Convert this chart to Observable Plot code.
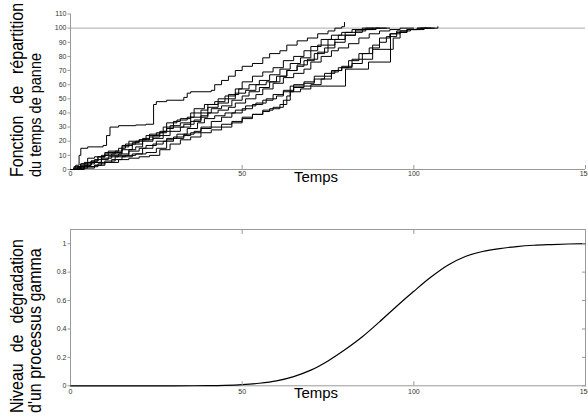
<!DOCTYPE html>
<html><head><meta charset="utf-8">
<script src="https://cdn.jsdelivr.net/npm/d3@7"></script>
<script src="https://cdn.jsdelivr.net/npm/@observablehq/plot@0.6"></script>
<style>
body{margin:0;background:#fff;}
#wrap{position:relative;width:588px;height:417px;overflow:hidden;font-family:"Liberation Sans",Arial,sans-serif;}
#wrap svg{position:absolute;left:0;}
</style></head><body><div id="wrap"></div>
<script>
// ---- data ----
const xTicks = [0, 50, 100, 150];
const yTicksTop = [0, 10, 20, 30, 40, 50, 60, 70, 80, 90, 100, 110];
const yTicksBottom = [0, 0.2, 0.4, 0.6, 0.8, 1];
const xLabel = "Temps";
const yLabelTop = ["Fonction de répartition", "du temps de panne"];
const yLabelBottom = ["Niveau de dégradation", "d'un processus gamma"];
const seuil = 100;

const runA = [[0,0],[1.5,3],[2.5,10],[3,15],[5,16],[9.5,17],[10.5,24],[11.5,30],[14,31],[19,31.5],[22,32],[24.2,46],[25,48],[28,49],[33,51],[34,54],[35,55],[41,56],[42,60],[44,63],[46,66],[48,70],[50,73],[53,75],[56,79],[58,82],[61,84],[63,88],[66,91],[69,93],[72,96],[75,98],[77,100],[79,101],[79.8,104]];
const runB = [[0,0],[2,1],[4,3],[6,6],[8,9],[10,12],[13,13],[15,17],[18,18],[21,22],[23,25],[26,27],[28,33],[31,35],[34,37],[36,43],[39,46],[42,48],[45,52],[48,57],[50,62],[53,66],[56,69],[59,72],[62,77],[65,80],[68,84],[70,87],[73,92],[76,95],[79,97],[82,99],[85,100],[88,100]];
const runC = [[0,0],[3,2],[5,4],[7,5],[9,8],[12,10],[14,11],[17,14],[19,16],[21,20],[24,22],[27,24],[29,27],[32,30],[35,34],[38,38],[40,44],[43,47],[46,50],[48,54],[51,56],[54,60],[57,62],[60,66],[63,70],[66,73],[68,77],[71,82],[74,86],[77,90],[80,95],[83,98],[86,99],[89,100],[92,100]];
const runD = [[0,0],[2,1],[5,2],[8,4],[10,6],[13,9],[16,10],[19,11],[22,12],[25,15],[28,21],[30,23],[33,25],[36,27],[38,29],[41,30],[44,32],[47,34],[50,36],[53,39],[56,42],[59,44],[62,49],[64,55],[67,57],[70,60],[73,64],[76,70],[79,73],[82,78],[85,82],[88,88],[90,93],[93,96],[96,98],[99,99],[102,100],[104,100]];
const runE = [[0,0],[4,1],[7,3],[10,5],[14,7],[17,8],[20,9],[23,10],[26,14],[29,18],[32,21],[35,23],[38,26],[41,28],[44,30],[47,33],[50,37],[53,39],[56,41],[58,43],[61,46],[63,52],[64,59],[80.1,71],[86.8,76],[93.2,96],[95,98],[98,99],[101,100],[106,100]];
const runF = [[0,0],[1,1],[3,3],[6,5],[9,7],[11,9],[14,10],[17,13],[20,15],[22,17],[25,20],[28,22],[31,25],[34,29],[37,33],[39,36],[42,38],[45,40],[48,42],[51,45],[54,47],[57,50],[60,52],[62,55],[65,60],[68,62],[71,66],[74,68],[77,70],[79,72],[82,75],[85,78],[88,85],[93.7,85],[94,93],[96,97],[98,99],[103,100],[107,101]];
const runG = [[0,0],[2,2],[4,5],[6,6],[8,9],[10,10],[12,11],[15,14],[18,19],[20,21],[23,23],[26,26],[28,29],[30,30],[33,32],[36,35],[38,37],[40,40],[43,42],[46,44],[48,47],[51,50],[54,53],[56,57],[59,61],[62,65],[65,68],[68,71],[70,76],[73,80],[76,84],[78,86],[81,89],[84,93],[87,96],[90,98],[93,99],[96,100],[100,100]];
const runH = [[0,0],[1,2],[3,4],[5,8],[7,9],[10,11],[13,12],[15,16],[17,20],[20,21],[22,24],[25,26],[27,30],[30,34],[32,36],[35,40],[38,42],[40,46],[43,50],[46,53],[49,57],[52,60],[55,63],[58,67],[61,71],[64,75],[67,79],[70,84],[72,88],[75,92],[78,95],[80,97],[83,99],[86,100],[90,100]];
const runI = [[0,0],[2,1],[4,2],[7,3],[9,5],[12,7],[15,9],[18,11],[21,15],[24,18],[27,20],[30,22],[33,24],[35,26],[38,30],[41,34],[44,37],[47,40],[50,43],[53,46],[56,49],[59,53],[62,56],[65,58],[68,61],[71,64],[74,66],[76,69],[78,72],[81,77],[84,82],[87,86],[90,90],[92,94],[95,97],[98,99],[101,100],[105,100]];
const runJ = [[0,0],[1,1],[3,4],[5,5],[7,7],[9,10],[11,13],[14,15],[16,18],[19,20],[21,21],[24,24],[27,27],[29,31],[32,33],[35,37],[38,40],[41,43],[44,45],[47,49],[50,52],[52,55],[55,58],[58,62],[61,66],[63,70],[66,74],[69,78],[72,83],[75,88],[77,92],[80,95],[83,97],[85,99],[88,100],[93,100]];

const gammaT = [0,10,20,30,40,45,50,55,60,65,70,75,80,85,90,95,100,105,110,115,120,125,130,135,140,145,150];
const gammaV = [0,0,0,0,0.001,0.003,0.008,0.018,0.035,0.065,0.11,0.175,0.255,0.345,0.45,0.56,0.665,0.765,0.85,0.91,0.945,0.966,0.98,0.989,0.994,0.998,1.0];

// ---- tables ----
const runs = {A: runA, B: runB, C: runC, D: runD, E: runE, F: runF, G: runG, H: runH, I: runI, J: runJ};
const runRows = Object.entries(runs).flatMap(([k, pts]) => pts.map(([t, v]) => ({run: k, t, v})));
const gammaRows = gammaT.map((t, i) => ({t, v: gammaV[i]}));

const FONT = "Liberation Sans, Arial, sans-serif";
const AX = "#999";
const TXT = "#333";

const topChart = Plot.plot({
  width: 588, height: 200,
  marginLeft: 70, marginRight: 3, marginTop: 13.5, marginBottom: 31,
  style: {fontFamily: FONT, background: "transparent", overflow: "visible"},
  x: {domain: [0, 150]},
  y: {domain: [0, 110]},
  marks: [
    Plot.ruleY([seuil], {stroke: "#aaa", strokeWidth: 1}),
    Plot.ruleY([0], {stroke: AX}),
    Plot.ruleX([0], {stroke: AX}),
    Plot.line(runRows, {x: "t", y: "v", z: "run", curve: "step-after", stroke: "#000", strokeWidth: 1}),
    Plot.axisY({ticks: yTicksTop, tickSize: 2.5, tickPadding: 1.5, fontSize: 7, fill: TXT, stroke: AX, label: null}),
    Plot.axisX({ticks: xTicks, tickSize: -4, tickPadding: 6, fontSize: 7, fill: TXT, stroke: AX, label: null}),
    Plot.text([xLabel], {frameAnchor: "bottom", dx: -12, dy: 8, fontSize: 15, lineAnchor: "middle", fill: "#000"})
  ]
});

const bottomChart = Plot.plot({
  width: 588, height: 217,
  marginLeft: 70, marginRight: 3, marginTop: 29, marginBottom: 31.7,
  style: {fontFamily: FONT, background: "transparent", overflow: "visible"},
  x: {domain: [0, 150]},
  y: {domain: [0, 1.1]},
  marks: [
    Plot.frame({stroke: AX}),
    Plot.line(gammaRows, {x: "t", y: "v", curve: "monotone-x", stroke: "#000", strokeWidth: 1.2}),
    Plot.axisY({ticks: yTicksBottom, tickSize: 2.5, tickPadding: 1.5, fontSize: 7, fill: TXT, stroke: AX, label: null, tickFormat: d => String(d)}),
    Plot.axisY({anchor: "right", ticks: yTicksBottom, tickSize: -4, tickFormat: () => "", stroke: AX, label: null}),
    Plot.axisX({ticks: xTicks, tickSize: -4, tickPadding: 7, fontSize: 7, fill: TXT, stroke: AX, label: null}),
    Plot.axisX({anchor: "top", ticks: xTicks, tickSize: -4, tickFormat: () => "", stroke: AX, label: null}),
    Plot.text([xLabel], {frameAnchor: "bottom", dx: -12, dy: 7.7, fontSize: 15, lineAnchor: "middle", fill: "#000"})
  ]
});

const wrap = document.getElementById("wrap");
topChart.style.top = "0px";
bottomChart.style.top = "200px";
wrap.appendChild(topChart);
wrap.appendChild(bottomChart);

// two-line rotated axis titles; first line justified to the full height
// each line: [baseline x, font size, perpendicular stretch, word spacing]
function addYLabel(svg, lines, y0, specs) {
  const s = d3.select(svg);
  lines.forEach((txt, i) => {
    const [bx, fs, st, ws] = specs[i];
    s.append("text")
      .attr("transform", `translate(${bx},${y0}) rotate(-90) scale(1,${st})`)
      .attr("text-anchor", "start")
      .attr("font-size", fs)
      .attr("font-family", FONT)
      .attr("fill", "#000")
      .attr("word-spacing", ws)
      .text(txt);
  });
}
addYLabel(topChart, yLabelTop, 177, [[23, 16, 1.15, 7.5], [40.5, 14.5, 1.15, 0]]);
addYLabel(bottomChart, yLabelBottom, 213, [[23, 16, 1.2, 6.5], [40.5, 16, 1.1, 0]]);
</script></body></html>
